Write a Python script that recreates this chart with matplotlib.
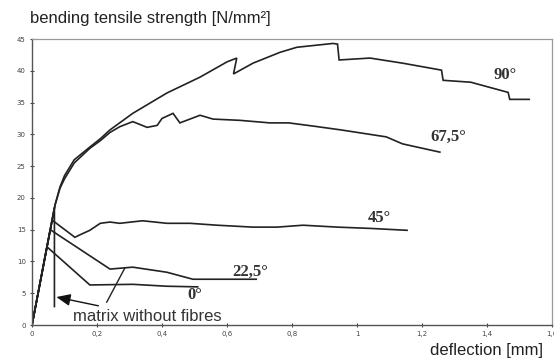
import matplotlib
matplotlib.use("Agg")
import matplotlib.pyplot as plt

# ---- data (deflection [mm], bending tensile strength [N/mm²]) ----
x90 = [0, 0.071, 0.086, 0.10, 0.13, 0.178, 0.21, 0.24, 0.31, 0.415, 0.517, 0.60, 0.63, 0.62, 0.68, 0.763,
       0.815, 0.926, 0.94, 0.945, 1.04, 1.14, 1.26, 1.265, 1.35, 1.465, 1.47, 1.53]
y90 = [0, 18.9, 21.7, 23.5, 26.0, 28.0, 29.3, 30.7, 33.3, 36.5, 39.0, 41.4, 42.0, 39.5, 41.2, 42.9,
       43.7, 44.3, 44.2, 41.7, 42.0, 41.2, 40.1, 38.5, 38.2, 36.6, 35.5, 35.5]

x675 = [0, 0.071, 0.086, 0.10, 0.13, 0.178, 0.21, 0.24, 0.27, 0.31, 0.354, 0.385, 0.40, 0.434, 0.455,
        0.517, 0.557, 0.64, 0.732, 0.79, 0.865, 0.95, 1.09, 1.14, 1.255]
y675 = [0, 18.9, 21.5, 23.0, 25.5, 27.8, 29.0, 30.3, 31.2, 32.0, 31.1, 31.4, 32.5, 33.3, 31.8,
        33.0, 32.4, 32.2, 31.8, 31.8, 31.3, 30.7, 29.6, 28.5, 27.2]

x45 = [0, 0.062, 0.132, 0.148, 0.178, 0.21, 0.24, 0.27, 0.34, 0.415, 0.486, 0.57, 0.68, 0.754, 0.834,
       0.94, 1.04, 1.154]
y45 = [0, 16.5, 13.8, 14.2, 14.9, 16.0, 16.2, 16.0, 16.4, 16.0, 16.0, 15.7, 15.4, 15.4, 15.7,
       15.4, 15.2, 14.9]

x225 = [0, 0.056, 0.24, 0.31, 0.415, 0.495, 0.60, 0.69]
y225 = [0, 15.0, 8.8, 9.1, 8.3, 7.2, 7.2, 7.2]

x0 = [0, 0.046, 0.178, 0.31, 0.415, 0.51]
y0 = [0, 12.3, 6.3, 6.4, 6.1, 6.0]

matrix_x = [0, 0.069, 0.069]
matrix_y = [0, 18.5, 2.9]

leader_x = [0.23, 0.286]
leader_y = [3.6, 9.0]

labels = ["90°", "67,5°", "45°", "22,5°", "0°"]
label_x = [1.455, 1.28, 1.07, 0.67, 0.50]
label_y = [39.3, 29.6, 16.8, 8.3, 4.7]

xticks = [0, 0.2, 0.4, 0.6, 0.8, 1.0, 1.2, 1.4, 1.6]
xticklabels = ["0", "0,2", "0,4", "0,6", "0,8", "1", "1,2", "1,4", "1,6"]
yticks = [0, 5, 10, 15, 20, 25, 30, 35, 40, 45]

# ---- figure ----
fig = plt.figure(figsize=(5.54, 3.62), dpi=100)
ax = fig.add_axes([32/554, 1-325/362, (552-32)/554, (325-39)/362])

lc = "#222222"
lw = 1.2
for xs, ys in [(x90, y90), (x675, y675), (x45, y45), (x225, y225), (x0, y0), (matrix_x, matrix_y)]:
    ax.plot(xs, ys, color=lc, lw=lw, solid_joinstyle="miter")
ax.plot(leader_x, leader_y, color=lc, lw=1.0)

for t, lx, ly in zip(labels, label_x, label_y):
    ax.text(lx, ly, t, family="Liberation Serif", fontweight="bold", fontsize=12,
            color="#333333", ha="center", va="center")

ax.annotate("matrix without fibres", xy=(0.075, 4.4), xytext=(0.127, 1.4),
            fontsize=12, family="Liberation Sans", color="#333333", va="center", ha="left",
            arrowprops=dict(arrowstyle="-|>,head_length=0.7,head_width=0.3", color="#111111", lw=1.0,
                            shrinkA=0, shrinkB=0))

ax.set_xlim(0, 1.6)
ax.set_ylim(0, 45)
ax.set_xticks(xticks)
ax.set_xticklabels(xticklabels)
ax.set_yticks(yticks)
ax.tick_params(direction="inout", length=3, width=0.8, labelsize=5, colors="#444444", pad=3)

for s in ["left", "bottom"]:
    ax.spines[s].set_color("#555555")
    ax.spines[s].set_linewidth(1.0)
for s in ["top", "right"]:
    ax.spines[s].set_color("#999999")
    ax.spines[s].set_linewidth(0.9)

fig.text(30/554, 1-18/362, "bending tensile strength [N/mm²]", family="Liberation Sans",
         fontsize=12, color="#222222", ha="left", va="center")
fig.text(543/554, 1-351/362, "deflection [mm]", family="Liberation Sans",
         fontsize=12, color="#222222", ha="right", va="center")

fig.savefig("out.png", dpi=100)
